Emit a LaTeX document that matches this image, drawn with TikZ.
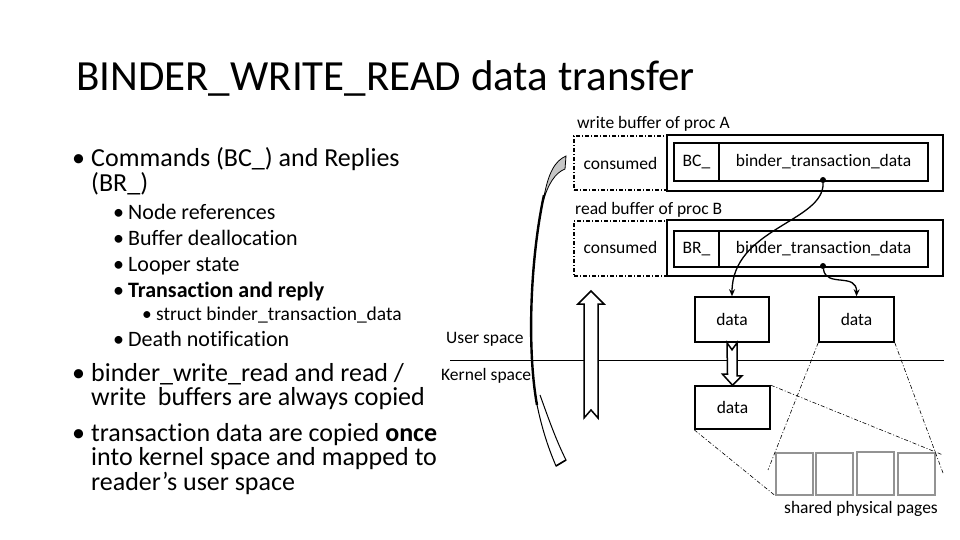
\documentclass[tikz,border=0pt]{standalone}
\usepackage{fontspec}
\setmainfont{Carlito}[Ligatures={NoCommon,NoRare}]
\usetikzlibrary{arrows.meta,calc}
\begin{document}
\begin{tikzpicture}[x=1pt,y=-1pt,
  txt/.style={inner sep=0pt,anchor=base west},
  lvlone/.style={txt,font=\fontsize{26}{30}\selectfont},
  lvltwo/.style={txt,font=\fontsize{22}{26}\selectfont},
  lvlthree/.style={txt,font=\fontsize{19.5}{23}\selectfont},
  small/.style={inner sep=0pt,font=\fontsize{17.5}{20}\selectfont},
  solidbox/.style={draw,line width=1.6pt,inner sep=0pt},
  dashbox/.style={draw,line width=1.1pt,dash pattern=on 4pt off 2pt on 1pt off 2pt,inner sep=0pt},
  page/.style={draw=gray!85,line width=2pt,inner sep=0pt,minimum width=37pt,minimum height=42pt},
  thindash/.style={line width=0.6pt,dash pattern=on 4pt off 2pt on 1pt off 2pt},
  hollow/.style={draw,line width=1.5pt,fill=white,line join=miter},
  conn/.style={line width=1.3pt,-{Stealth[length=7pt,width=6pt]}},
  dot/.style={circle,fill,inner sep=0pt,minimum size=6pt}
]
\useasboundingbox (0,0) rectangle (960,540);
\fill[white] (0,0) rectangle (960,540);

% title
\node[txt,font=\fontsize{43}{50}\selectfont] (title) at (76,91) {BINDER\_WRITE\_READ data transfer};

% left bullets
\node[lvlone] (b1) at (72,167) {•};
\node[lvlone] (t1) at (91,167) {Commands (BC\_) and Replies};
\node[lvlone] (t1b) at (91,191) {(BR\_)};
\node[lvltwo] (b2) at (113,219) {•};
\node[lvltwo] (t2) at (128,219) {Node references};
\node[lvltwo] (b3) at (113,245) {•};
\node[lvltwo] (t3) at (128,245) {Buffer deallocation};
\node[lvltwo] (b4) at (113,271) {•};
\node[lvltwo] (t4) at (128,271) {Looper state};
\node[lvltwo] (b5) at (113,297) {•};
\node[lvltwo] (t5) at (128,297) {\bfseries Transaction and reply};
\node[lvlthree] (b6) at (142,320) {•};
\node[lvlthree] (t6) at (156,320) {struct binder\_transaction\_data};
\node[lvltwo] (b7) at (113,346) {•};
\node[lvltwo] (t7) at (128,346) {Death notification};
\node[lvlone] (b8) at (72,381) {•};
\node[lvlone] (t8) at (91,381) {binder\_write\_read and read /};
\node[lvlone] (t8b) at (91,405) {write\ \ buffers are always copied};
\node[lvlone] (b9) at (72,441) {•};
\node[lvlone] (t9) at (91,441) {transaction data are copied \textbf{once}};
\node[lvlone] (t9b) at (91,465) {into kernel space and mapped to};
\node[lvlone] (t9c) at (91,490) {reader’s user space};

% user / kernel space
\node[small,anchor=west] (us) at (446,339) {User space};
\node[small,anchor=west] (ks) at (441,376) {Kernel space};
\coordinate (hl) at (450,360);
\coordinate (hr) at (944,360);
\draw[line width=0.8pt] (hl) -- (hr);

% write buffer of proc A
\node[small,anchor=west] (wlab) at (577,124) {write buffer of proc A};
\node[dashbox,minimum width=93pt,minimum height=54pt] (wcons) at (620.5,163) {};
\node[small] at (wcons) {consumed};
\node[solidbox,minimum width=276pt,minimum height=56pt] (wout) at (805,163) {};
\node[solidbox,minimum width=45pt,minimum height=38pt] (wbc) at (696.5,162) {};
\node[small] at (wbc) {BC\_};
\node[solidbox,minimum width=209pt,minimum height=38pt] (wbtd) at (823.5,162) {};
\node[small] at (wbtd) {binder\_transaction\_data};

% read buffer of proc B
\node[small,anchor=west] (rlab) at (575,210) {read buffer of proc B};
\node[dashbox,minimum width=93pt,minimum height=55pt] (rcons) at (620.5,248.5) {};
\node[small] at ($(rcons)+(0,-1)$) {consumed};
\node[solidbox,minimum width=276pt,minimum height=56pt] (rout) at (805,248) {};
\node[solidbox,minimum width=45pt,minimum height=36pt] (rbr) at (696.5,249) {};
\node[small] at (rbr) {BR\_};
\node[solidbox,minimum width=209pt,minimum height=36pt] (rbtd) at (823.5,249) {};
\node[small] at (rbtd) {binder\_transaction\_data};

% data boxes
\node[solidbox,small,minimum width=74pt,minimum height=45pt] (d1) at (732,319.5) {data};
\node[solidbox,small,minimum width=75pt,minimum height=45pt] (d2) at (856.5,319.5) {data};
\node[solidbox,small,minimum width=75pt,minimum height=43pt] (d3) at (732.5,407.5) {data};

% dots and connectors
\node[dot] (da) at (823,180) {};
\node[dot] (db) at (823,266) {};
\draw[conn] (da) .. controls (824,222) and (732,228) .. (d1.north);
\draw[conn] (db) .. controls (826,288) and (857,272) .. (d2.north);

% hollow down arrow d1 -> d3
\draw[hollow] (d1.south) ++(-5,0) -- ++(5,7) -- ++(5,-7) -- ++(0,33) -- ++(5,0) -- (d3.north) -- ++(-10,-11) -- ++(5,0) -- cycle;

% hollow up arrow
\coordinate (upTip) at (591,291);
\draw[hollow] (upTip) -- ++(13,13) -- ++(-6,0) -- ++(0,114) -- ++(-7,-8) -- ++(-7,8) -- ++(0,-114) -- ++(-6,0) -- cycle;

% shared physical pages
\node[page] (p1) at (794.5,473.5) {};
\node[page] (p2) at (834.5,473.5) {};
\node[page,minimum height=43pt] (p3) at (875,473) {};
\node[page] (p4) at (916,473.5) {};
\node[small] (spp) at (861,509) {shared physical pages};

% mapping lines
\coordinate (m1) at (768,470);
\coordinate (m2) at (943,473);
\coordinate (m3) at (943,455);
\draw[thindash] (d3.south west) -- (p1.south west);
\draw[thindash] (d3.north east) -- (m3);
\draw[thindash] (d2.south west) -- (m1);
\draw[thindash] (d2.south east) -- (m2);

% big curved arrow (copy of buffers)
\coordinate (ca1) at (566,156);
\coordinate (ca2) at (565,169);
\fill[gray!45,draw=black,line width=0.8pt] (ca1) .. controls (555,161) and (548,172) .. (543,202)
   .. controls (548,184) and (555,173) .. (ca2) -- cycle;
\draw[line width=2.4pt] (544,195) .. controls (530,260) and (527,350) .. (537,405);
\draw[line width=1pt] (536,400) .. controls (541,425) and (547,445) .. (556,466)
   -- (566,460) .. controls (556,440) and (549,420) .. (540,395);
\draw[line width=1.6pt] (556,466) -- (566,460);
\end{tikzpicture}
\end{document}
